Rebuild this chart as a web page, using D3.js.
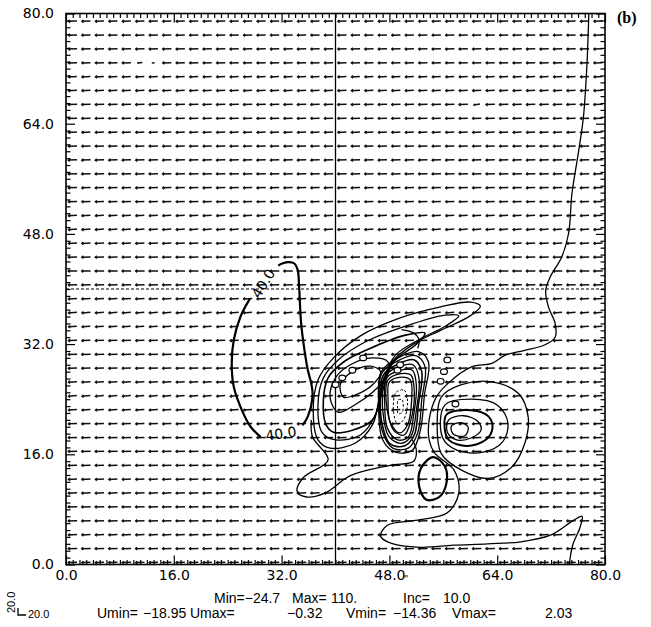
<!DOCTYPE html>
<html>
<head>
<meta charset="utf-8">
<script src="https://cdn.jsdelivr.net/npm/d3@7"></script>
<style>
  body { margin: 0; background: #fff; }
  svg { display: block; }
</style>
</head>
<body>
<svg id="chart" width="651" height="627"></svg>
<script>
// ---- axes ----
const xTicks = [0, 16, 32, 48, 64, 80];
const yTicks = [0, 16, 32, 48, 64, 80];
const tickLabels = ["0.0", "16.0", "32.0", "48.0", "64.0", "80.0"];
const minorStep = 1;
const crossX = 40;          // vertical reference line
const crossY = 40;          // horizontal dashed reference line

// ---- wind vector grid (u, v per row, bottom to top) ----
const gridCols = d3.range(1, 80, 2);
const gridRows = d3.range(0.3, 80, 2.015);
const uByRow = [-17.5,-17.8,-17.2,-17.6,-17.9,-17.4,-17.0,-17.3,-17.8,-17.5,
                -17.1,-16.8,-16.5,-16.9,-17.2,-17.6,-17.0,-16.4,-16.8,-17.3,
                -17.6,-17.9,-17.5,-17.2,-17.0,-16.8,-17.1,-17.4,-17.7,-17.5,
                -17.2,-16.9,-17.3,-17.6,-17.0,-16.7,-17.1,-17.4,-17.2,-17.0];
const vByRow = [-0.6,-0.4,-0.8,-0.5,-0.3,-0.7,-0.9,-0.6,-0.4,-0.5,
                -0.8,-1.2,-1.6,-1.0,-0.7,-0.5,-0.9,-1.4,-1.1,-0.6,
                -0.4,-0.3,-0.6,-0.9,-1.1,-1.3,-0.8,-0.5,-0.4,-0.6,
                -0.7,-0.9,-0.5,-0.4,-0.8,-1.0,-0.6,-0.5,-0.7,-0.6];
// cells whose wind differs from the row value: [col, row, u, v]
const oddCells = [[6, 36, -4.0, -0.5], [5, 36, -9.0, -0.8], [30, 33, -12.0, -2.0]];
const refVector = 20.0;

// ---- field statistics ----
const fieldMin = -24.7, fieldMax = 110, fieldInc = 10.0;
const uMin = -18.95, uMax = -0.32, vMin = -14.36, vMax = 2.03;

// ---- contour lines (data units) ----
const contourLines = [
  // 40.0 contour, west of the system (two pieces split by labels)
  {width: 2.2, pts: [[27.3,38.6],[25.9,36.0],[24.9,32.6],[24.6,29.2],[24.9,25.8],[26.2,22.2],[27.4,20.0],[28.9,18.5]]},
  {width: 2.2, pts: [[35.1,20.2],[35.9,21.5],[36.6,24.4],[36.4,26.3],[35.9,28.2],[35.4,31.1],[34.9,35.0],[34.6,40.3],[34.4,42.7],[33.9,43.7],[33.1,43.9],[32.1,43.7],[31.5,43.4]]},
  // long contour from the top edge down through the system to the bottom edge
  {width: 1.3, pts: [[77.6,80],[77.3,72.2],[76.8,65.0],[76.1,60.1],[75.1,53.9],[74.6,48.1],[73.6,44.7],[71.9,41.8],[71.2,39.8],[71.6,37.4],[72.6,35.0],[72.6,33.0],[71.1,31.9],[68.1,31.1],[65.2,30.4],[63.2,29.2],[60.2,28.7],[56.7,26.3],[54.9,24.2],[53.9,21.0],[53.9,18.1],[54.7,16.2],[57.6,13.7],[58.3,10.4],[56.6,7.5],[52.6,6.5],[47.7,5.7],[46.7,4.1],[48.2,3.1],[52.6,2.5],[57.5,2.8],[62.6,3.0],[67.5,3.3],[72.0,4.3],[75.3,6.4],[76.6,7.0],[76.3,5.4],[75.2,2.8],[74.7,0]]},
  // envelope south-west of the system
  {width: 1.3, pts: [[36.4,21.0],[36.6,18.5],[38.9,15.2],[35.2,12.6],[34.3,10.6],[35.7,9.8],[38.5,10.4],[42.2,12.9],[48.1,14.4],[51.6,15.0],[52.0,16.6],[51.4,18.1]]},
  // short hooked segment above the central vortex
  {width: 1.3, pts: [[49.8,34.1],[51.6,33.6],[52.4,32.6],[52.2,31.4]]},
  // western vortex, stretched north-east
  {width: 1.3, closed: true, pts: [[37.4,18.1],[36.7,22.4],[37.4,26.8],[39.7,30.0],[43.7,33.2],[49.6,35.8],[55.6,37.4],[60.0,38.1],[61.5,37.5],[60.0,36.1],[55.6,34.0],[51.9,32.2],[48.4,29.4],[46.7,25.0],[45.5,20.3],[42.9,17.6],[39.2,16.9]]},
  {width: 1.3, closed: true, pts: [[38.0,19.2],[37.4,23.2],[38.2,27.1],[40.4,29.7],[44.4,32.3],[50.4,34.6],[56.3,36.2],[58.3,36.1],[56.3,34.6],[52.3,32.6],[48.9,30.4],[47.1,26.8],[45.9,21.7],[43.7,18.8],[40.0,18.1]]},
  {width: 1.6, closed: true, pts: [[38.6,20.3],[38.2,23.9],[38.9,27.1],[41.2,29.4],[45.2,31.4],[50.4,33.3],[53.3,33.6],[51.9,31.9],[48.6,29.4],[47.0,25.3],[45.5,21.0],[42.5,19.5],[39.7,19.2]]},
  {width: 1.3, closed: true, pts: [[39.2,24.2],[40.0,27.1],[42.2,29.0],[45.5,30.0],[47.8,29.4],[47.4,27.1],[45.5,25.0],[42.9,23.2],[40.4,22.1]]},
  {width: 1.3, closed: true, pts: [[40.7,26.1],[42.5,28.0],[45.2,28.8],[46.7,28.0],[45.5,26.1],[42.9,24.6],[41.2,24.3]]},
  // central vortex, tightly packed on its western side
  {width: 1.3, closed: true, pts: [[46.8,28.0],[49.3,30.0],[52.3,30.9],[53.8,29.4],[53.2,24.6],[52.6,19.5],[51.4,16.6],[48.9,16.3],[47.0,18.1],[46.4,23.2]]},
  {width: 1.3, closed: true, pts: [[46.9,27.8],[49.3,29.6],[52.0,30.3],[53.3,28.7],[52.8,23.9],[52.2,19.1],[50.8,16.9],[48.5,16.9],[46.9,19.5],[46.5,23.9]]},
  {width: 1.6, closed: true, pts: [[47.1,27.5],[49.3,29.1],[51.7,29.7],[52.8,28.0],[52.3,23.2],[51.7,18.8],[50.2,17.2],[48.1,17.5],[46.8,21.0],[46.7,24.6]]},
  {width: 1.3, closed: true, pts: [[47.3,27.3],[49.4,28.7],[51.5,29.0],[52.4,27.0],[52.0,22.4],[51.2,18.6],[49.7,17.6],[47.9,18.6],[47.0,22.5],[47.0,24.3]]},
  {width: 1.3, closed: true, pts: [[47.6,27.1],[49.6,28.2],[51.4,28.2],[52.0,26.1],[51.6,21.7],[50.8,18.5],[49.2,18.1],[47.7,19.8],[47.3,23.9]]},
  {width: 1.3, closed: true, pts: [[47.8,26.8],[49.7,27.7],[51.2,27.5],[51.7,25.0],[51.2,21.0],[50.2,18.8],[48.7,19.4],[47.5,23.9]]},
  {width: 1.3, closed: true, pts: [[48.0,26.5],[49.8,27.2],[51.1,26.8],[51.3,23.9],[50.7,20.3],[49.5,19.1],[48.1,20.7],[47.8,23.9]]},
  {width: 1.0, closed: true, dashed: true, pts: [[49.0,25.0],[50.2,25.3],[50.7,23.6],[50.1,21.0],[49.2,20.4],[48.6,22.4]]},
  {width: 1.0, closed: true, dashed: true, pts: [[49.3,23.9],[49.9,23.9],[49.9,22.1],[49.3,21.9],[49.2,23.0]]},
  // eastern vortex
  {width: 1.3, closed: true, pts: [[55.7,24.3],[58.7,26.1],[63.2,26.5],[67.2,24.8],[68.6,21.4],[68.1,17.6],[66.2,14.2],[62.7,12.5],[58.7,13.7],[55.7,16.1],[55.1,21.0]]},
  {width: 1.3, closed: true, pts: [[56.2,23.1],[60.2,24.0],[64.1,23.1],[65.6,20.5],[64.8,17.8],[61.9,16.3],[58.0,16.6],[55.9,18.4]]},
  {width: 2.0, closed: true, pts: [[56.5,21.8],[60.2,22.4],[62.7,21.5],[63.3,19.8],[62.3,18.1],[59.5,17.2],[56.8,18.1],[56.2,19.8]]},
  {width: 1.3, closed: true, pts: [[56.8,21.0],[59.0,21.6],[61.1,20.8],[61.6,19.5],[60.2,18.4],[58.0,18.1],[56.6,19.2]]},
  {width: 1.3, closed: true, pts: [[57.2,20.1],[58.7,20.6],[59.7,19.9],[59.2,18.7],[57.5,18.9]]},
  // small closed contour south of the system
  {width: 2.2, closed: true, pts: [[54.5,15.6],[56.2,14.3],[56.5,12.0],[55.4,9.8],[53.5,9.4],[52.4,11.4],[52.7,14.0]]}
];
const contourLabels = [
  {text: "40.0", x: 31.9, y: 19.0, angle: -8},
  {text: "40.0", x: 29.3, y: 40.8, angle: -58}
];
// tiny label marks along the packed contours
const tinyMarks = [[40.0,26.1],[41.0,27.1],[42.5,28.2],[44.1,30.0],[49.2,28.2],[49.6,29.0],
                   [56.6,29.7],[56.1,28.0],[55.6,26.6],[57.8,23.3]];

// ---- drawing ----
const W = 651, H = 627;
const svg = d3.select("#chart");
const font = "DejaVu Sans, Verdana, sans-serif";
const statFont = "Liberation Sans, Arial, sans-serif";
const x = d3.scaleLinear().domain([0, 80]).range([66, 605]);
const y = d3.scaleLinear().domain([0, 80]).range([564.5, 13.5]);

svg.append("rect").attr("width", W).attr("height", H).attr("fill", "#fff");

svg.append("defs").append("clipPath").attr("id", "plotClip")
  .append("rect").attr("x", x(0)).attr("y", y(80))
  .attr("width", x(80) - x(0)).attr("height", y(0) - y(80));

const plot = svg.append("g").attr("clip-path", "url(#plotClip)");

// wind vectors
const kArrow = 0.5;   // pixels per m/s
const cells = [];
gridRows.forEach((ry, j) => gridCols.forEach((cx, i) => {
  cells.push({x: cx, y: ry, u: uByRow[j], v: vByRow[j], i, j});
}));
oddCells.forEach(([i, j, u, v]) => {
  const c = cells.find(d => d.i === i && d.j === j);
  if (c) { c.u = u; c.v = v; }
});
const arrowPath = d => {
  const cx = x(d.x), cy = y(d.y);
  const dx = d.u * kArrow, dy = -d.v * kArrow;
  const x0 = cx - dx / 2, y0 = cy - dy / 2, x1 = cx + dx / 2, y1 = cy + dy / 2;
  const len = Math.hypot(dx, dy), a = Math.atan2(dy, dx);
  const h = Math.min(2, len * 0.25);
  const b1 = [x1 - h * Math.cos(a - 0.7), y1 - h * Math.sin(a - 0.7)];
  const b2 = [x1 - h * Math.cos(a + 0.7), y1 - h * Math.sin(a + 0.7)];
  return `M${x0},${y0}L${x1},${y1}M${b1[0]},${b1[1]}L${x1},${y1}L${b2[0]},${b2[1]}`;
};
plot.append("g").selectAll("path").data(cells).join("path")
  .attr("d", arrowPath).attr("fill", "none").attr("stroke", "#111")
  .attr("stroke-width", 1.5).attr("stroke-linecap", "butt");

// reference lines
plot.append("line").attr("x1", x(crossX)).attr("x2", x(crossX))
  .attr("y1", y(0)).attr("y2", y(80)).attr("stroke", "#000").attr("stroke-width", 1.3);
plot.append("line").attr("x1", x(0)).attr("x2", x(80))
  .attr("y1", y(crossY)).attr("y2", y(crossY)).attr("stroke", "#000")
  .attr("stroke-width", 1.1).attr("stroke-dasharray", "3,2");

// contours
const openLine = d3.line().x(d => x(d[0])).y(d => y(d[1])).curve(d3.curveCatmullRom.alpha(0.5));
const closedLine = d3.line().x(d => x(d[0])).y(d => y(d[1])).curve(d3.curveCatmullRomClosed.alpha(0.5));
plot.append("g").selectAll("path").data(contourLines).join("path")
  .attr("d", d => (d.closed ? closedLine : openLine)(d.pts))
  .attr("fill", "none").attr("stroke", "#000")
  .attr("stroke-width", d => d.width)
  .attr("stroke-dasharray", d => d.dashed ? "2.5,2" : null)
  .attr("stroke-linejoin", "round");

plot.append("g").selectAll("ellipse").data(tinyMarks).join("ellipse")
  .attr("cx", d => x(d[0])).attr("cy", d => y(d[1]))
  .attr("rx", 3.4).attr("ry", 2.8).attr("fill", "#fff")
  .attr("stroke", "#000").attr("stroke-width", 1.2);

plot.append("g").selectAll("text").data(contourLabels).join("text")
  .attr("transform", d => `translate(${x(d.x)},${y(d.y)}) rotate(${d.angle})`)
  .attr("text-anchor", "middle").attr("dy", "0.35em")
  .attr("font-family", font).attr("font-size", 14).text(d => d.text);

// frame
svg.append("rect").attr("x", x(0)).attr("y", y(80))
  .attr("width", x(80) - x(0)).attr("height", y(0) - y(80))
  .attr("fill", "none").attr("stroke", "#000").attr("stroke-width", 1.6);

// ticks (major + minor, pointing inward) and labels
const minorVals = d3.range(0, 80 + minorStep / 2, minorStep).filter(v => !xTicks.includes(v));
const styleAxis = g => {
  g.select(".domain").remove();
  g.selectAll("line").attr("stroke", "#000").attr("stroke-width", 1.2);
  g.selectAll("text").attr("font-family", font).attr("font-size", 14).attr("fill", "#000");
};
const fmt = v => tickLabels[xTicks.indexOf(v)];
const majorAxes = [
  {ax: d3.axisBottom(x), tr: `translate(0,${y(0)})`, pad: 6, labels: true},
  {ax: d3.axisTop(x), tr: `translate(0,${y(80)})`, pad: 0, labels: false},
  {ax: d3.axisLeft(y), tr: `translate(${x(0)},0)`, pad: 12, labels: true},
  {ax: d3.axisRight(y), tr: `translate(${x(80)},0)`, pad: 0, labels: false}
];
majorAxes.forEach(({ax, tr, pad, labels}) => {
  svg.append("g").attr("transform", tr)
    .call(ax.tickValues(xTicks).tickSizeInner(-9).tickSizeOuter(0).tickPadding(pad)
      .tickFormat(labels ? fmt : () => ""))
    .call(styleAxis);
});
[d3.axisBottom(x), d3.axisTop(x), d3.axisLeft(y), d3.axisRight(y)].forEach((ax, k) => {
  svg.append("g").attr("transform", majorAxes[k].tr)
    .call(ax.tickValues(minorVals).tickSizeInner(-4.5).tickSizeOuter(0).tickFormat(() => ""))
    .call(styleAxis);
});

// panel tag
svg.append("text").attr("x", 617).attr("y", 23).attr("font-family", "Liberation Serif, Times New Roman, serif")
  .attr("font-weight", "bold").attr("font-size", 16).text("(b)");
svg.append("text").attr("x", 404).attr("y", 583).attr("font-family", statFont)
  .attr("font-size", 11).text("\"");

// statistics lines
const f1 = v => v.toFixed(1).replace("-", "\u2212");
const f2 = v => v.toFixed(2).replace("-", "\u2212");
const line1 = [
  [`Min=${f1(fieldMin)}`, 214],
  [`Max=`, 292], [`${fieldMax}.`, 331],
  [`Inc=`, 403], [f1(fieldInc), 443]
];
const line2 = [
  ["Umin=", 97], [f2(uMin), 143], ["Umax=", 190], [f2(uMax), 287],
  ["Vmin=", 346], [f2(vMin), 393], ["Vmax=", 452], [f2(vMax), 545]
];
svg.append("g").selectAll("text").data(line1).join("text")
  .attr("x", d => d[1]).attr("y", 603).attr("font-family", statFont).attr("font-size", 14).text(d => d[0]);
svg.append("g").selectAll("text").data(line2).join("text")
  .attr("x", d => d[1]).attr("y", 618).attr("font-family", statFont).attr("font-size", 14).text(d => d[0]);

// reference vector key
const refLen = refVector * kArrow;
const kx = 18, ky = 615;
svg.append("path").attr("d", `M${kx},${ky - refLen * 0.7}L${kx},${ky}L${kx + refLen * 0.8},${ky}`)
  .attr("fill", "none").attr("stroke", "#000").attr("stroke-width", 1.3);
svg.append("text").attr("x", kx + refLen * 0.8 + 2).attr("y", ky + 3).attr("font-family", statFont)
  .attr("font-size", 11).text(f1(refVector));
svg.append("text").attr("transform", `translate(${kx - 3},${ky - 2}) rotate(-90)`)
  .attr("font-family", statFont).attr("font-size", 11).text(f1(refVector));
</script>
</body>
</html>
